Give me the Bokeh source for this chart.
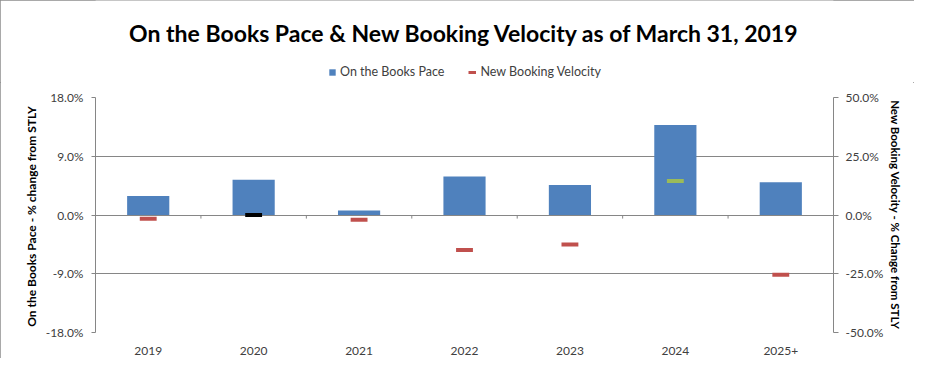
import numpy as np
from bokeh.plotting import figure
from bokeh.layouts import column
from bokeh.models import (Range1d, LinearAxis, FixedTicker, PrintfTickFormatter,
                          Legend, LegendItem, ColumnDataSource, Label)
from bokeh.embed import file_html
from bokeh.resources import INLINE

# ---- data ----
categories = ["2019", "2020", "2021", "2022", "2023", "2024", "2025+"]
otb_pace = [2.9, 5.4, 0.7, 5.9, 4.6, 13.8, 5.0]          # % change from STLY (left axis)
booking_velocity = [-1.6, 0.0, -2.0, -14.9, -12.6, 14.5, -25.4]  # % change from STLY (right axis)
left_ticks = [-18.0, -9.0, 0.0, 9.0, 18.0]
right_ticks = [-50.0, -25.0, 0.0, 25.0, 50.0]
title_text = "On the Books Pace & New Booking Velocity as of March 31, 2019"
series_names = ["On the Books Pace", "New Booking Velocity"]
left_label = "On the Books Pace - % change  from STLY"
right_label = "New Booking Velocity - % Change from STLY"

BLUE = "#4F81BD"
RED = "#C0504D"
GREEN = "#9BBB59"
GRID = "#868686"
FONT = "Lato"

# layout (pixels)
W, H = 914, 358
HEAD = 82                                    # height of title + legend strip
LEFT, RIGHT, TOP, BOTTOM = 95, 833, 97, 332  # frame edges in page px

x = np.arange(len(categories))
vel_colors = [RED if v < 0 else (GREEN if v > 0 else "black") for v in booking_velocity]

# ---------- header strip: title + legend (frame aligned with the chart's frame) ----------
head = figure(width=W, height=HEAD, output_backend="svg", toolbar_location=None,
              x_range=Range1d(LEFT, RIGHT), y_range=Range1d(0, HEAD),
              x_axis_location=None, y_axis_location=None,
              min_border_left=LEFT, min_border_right=W - RIGHT,
              min_border_top=0, min_border_bottom=0)
head.outline_line_color = None
head.grid.visible = False
head.background_fill_color = "white"
head.border_fill_color = "white"
head.add_layout(Label(x=(LEFT + RIGHT) / 2, y=HEAD - 32, text=title_text,
                      text_align="center", text_baseline="middle",
                      text_font=FONT, text_font_size="23px", text_font_style="bold",
                      text_color="black"))
hsrc = ColumnDataSource(dict(x=x, top=otb_pace, v=booking_velocity))
h_bar = head.vbar(x="x", top="top", width=0.4, source=hsrc, fill_color=BLUE,
                  line_color=None, visible=False)
h_line = head.line(x="x", y="v", source=hsrc, line_color=RED, line_width=3, visible=False)
legend = Legend(items=[LegendItem(label=series_names[0], renderers=[h_bar]),
                       LegendItem(label=series_names[1], renderers=[h_line])],
                orientation="horizontal", location=(233, 3),
                label_text_font=FONT, label_text_font_size="12.5px", label_text_color="#404040",
                glyph_width=8, glyph_height=8, spacing=24, label_standoff=4,
                border_line_color=None, background_fill_alpha=0, padding=1, margin=0,
                inactive_fill_alpha=0)
head.add_layout(legend, "center")

# ---------- main chart ----------
p = figure(width=W, height=H - HEAD, output_backend="svg", toolbar_location=None,
           x_range=Range1d(-0.5, len(categories) - 0.5),
           y_range=Range1d(left_ticks[0], left_ticks[-1]),
           min_border_left=LEFT, min_border_right=W - RIGHT,
           min_border_top=TOP - HEAD, min_border_bottom=H - BOTTOM)
p.extra_y_ranges = {"vel": Range1d(right_ticks[0], right_ticks[-1])}
p.outline_line_color = None
p.background_fill_color = "white"
p.border_fill_color = "white"

# bars
src = ColumnDataSource(dict(x=x, top=otb_pace))
p.vbar(x="x", top="top", bottom=0, width=0.4, source=src, fill_color=BLUE, line_color=None)

# velocity markers
vsrc = ColumnDataSource(dict(x=x, y=booking_velocity, c=vel_colors))
p.rect(x="x", y="y", width=0.16, height=4, height_units="screen",
       fill_color="c", line_color=None, y_range_name="vel", source=vsrc)

# zero-line boundary tick marks
bx = x[:-1] + 0.5
p.segment(x0=bx, y0=[0] * len(bx), x1=bx, y1=[-0.55] * len(bx), line_color=GRID, line_width=1)

# x axis
xa = p.xaxis[0]
xa.ticker = FixedTicker(ticks=list(x))
xa.major_label_overrides = {int(i): c for i, c in zip(x, categories)}
xa.axis_line_color = None
xa.major_tick_line_color = None
xa.minor_tick_line_color = None
xa.major_label_text_font = FONT
xa.major_label_text_font_size = "12px"
xa.major_label_text_color = "#404040"
xa.major_label_standoff = 8
p.xgrid.visible = False

# left axis
ya = p.yaxis[0]
ya.ticker = FixedTicker(ticks=left_ticks)
ya.formatter = PrintfTickFormatter(format="%.1f%%")
ya.axis_line_color = GRID
ya.major_tick_line_color = GRID
ya.major_tick_in = 0
ya.major_tick_out = 4
ya.minor_tick_line_color = None
ya.major_label_text_font = FONT
ya.major_label_text_font_size = "12px"
ya.major_label_text_color = "#404040"
ya.major_label_standoff = 8
ya.axis_label = left_label
ya.axis_label_text_font = FONT
ya.axis_label_text_font_size = "12px"
ya.axis_label_text_font_style = "bold"
ya.axis_label_text_color = "black"
ya.axis_label_standoff = 4
p.ygrid.ticker = FixedTicker(ticks=left_ticks)
p.ygrid.grid_line_color = GRID
p.ygrid.grid_line_width = 1

# right axis
ra = LinearAxis(y_range_name="vel", ticker=FixedTicker(ticks=right_ticks),
                formatter=PrintfTickFormatter(format="%.1f%%"))
ra.axis_line_color = GRID
ra.major_tick_line_color = GRID
ra.major_tick_in = 0
ra.major_tick_out = 5
ra.minor_tick_line_color = None
ra.major_label_text_font = FONT
ra.major_label_text_font_size = "12px"
ra.major_label_text_color = "#404040"
ra.major_label_standoff = 7
ra.axis_label = right_label
ra.axis_label_text_font = FONT
ra.axis_label_text_font_size = "11.5px"
ra.axis_label_text_font_style = "bold"
ra.axis_label_text_color = "black"
ra.axis_label_standoff = 3
p.add_layout(ra, "right")

layout = column(head, p, spacing=0,
                styles={"outline": "1px solid #8c8c8c", "outline-offset": "-1px"})

open("out.html", "w").write(file_html(layout, INLINE))
